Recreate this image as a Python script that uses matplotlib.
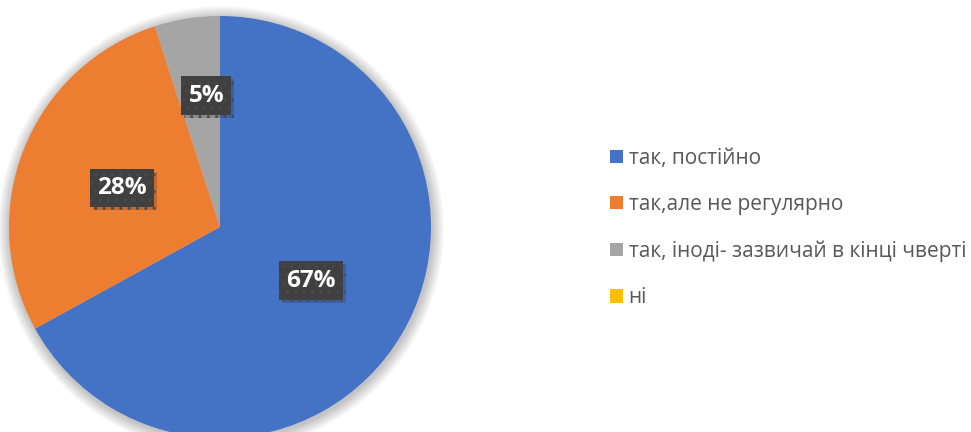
import matplotlib
matplotlib.use("Agg")
import matplotlib.pyplot as plt
from matplotlib.patches import Circle
import matplotlib.patheffects as pe

plt.rcParams['font.family'] = ['Open Sans', 'DejaVu Sans']

categories = ["так, постійно", "так,але не регулярно", "так, іноді- зазвичай в кінці чверті", "ні"]
values = [67, 28, 5, 0]
colors = ["#4472C4", "#ED7D31", "#A5A5A5", "#FFC000"]

W, H = 971, 432
fig = plt.figure(figsize=(W / 100, H / 100), dpi=100)
ax = fig.add_axes([0, 0, 1, 1])

cx, cy, R = 220, H - 227, 211

# soft shadow around the pie
for i in range(12):
    ax.add_patch(Circle((cx + 1, cy - 2), R + 12 - i, facecolor='black',
                        edgecolor='none', alpha=0.018, zorder=0))

def fmt(p):
    return f"{p:.0f}%" if p > 0.5 else ""

wedges, texts, autotexts = ax.pie(
    values, colors=colors, startangle=90, counterclock=False,
    center=(cx, cy), radius=R, autopct=fmt, pctdistance=0.5,
    wedgeprops=dict(linewidth=0, zorder=1), frame=True)

for t, v in zip(autotexts, values):
    if v <= 0:
        continue
    t.set_fontsize(17.5)
    t.set_fontweight('bold')
    t.set_color('white')
    t.set_bbox(dict(boxstyle='square,pad=0.3', facecolor='#404040',
                    edgecolor='#4a4a4a', hatch='..', linewidth=0))
    t.get_bbox_patch().set_path_effects(
        [pe.SimplePatchShadow(offset=(2, -2), alpha=0.18), pe.Normal()])
    if v < 10:
        x, y = t.get_position()
        t.set_position((cx + (x - cx) * 1.26 + 7, cy + (y - cy) * 1.26))

ax.set_xlim(0, W)
ax.set_ylim(0, H)
ax.set_aspect('auto')
ax.axis('off')

leg = fig.legend(wedges, categories, loc='center left',
                 bbox_to_anchor=(610 / W, 1 - 228 / H), frameon=False,
                 fontsize=15.0, labelcolor='#595959', handlelength=0.6,
                 handleheight=0.6, handletextpad=0.3, labelspacing=1.22,
                 borderpad=0, borderaxespad=0)

fig.savefig("out.png", dpi=100)
